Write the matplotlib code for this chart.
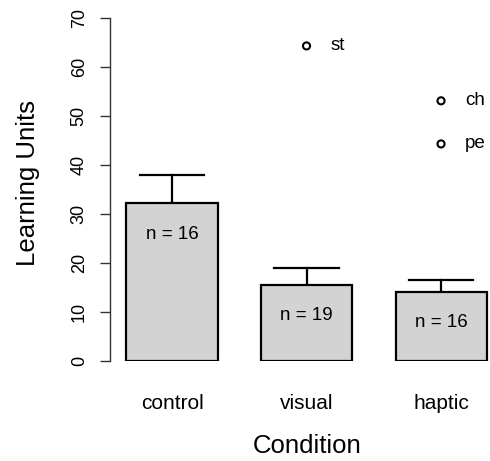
import numpy as np
import matplotlib
matplotlib.use("Agg")
from matplotlib import pyplot as plt

plt.rcParams['font.family'] = ['Liberation Sans', 'DejaVu Sans']

# data
conditions = ['control', 'visual', 'haptic']
means = [32.2, 15.5, 14.1]
upper = [38.0, 19.0, 16.5]
counts = [16, 19, 16]
outlier_group = [1, 2, 2]
outlier_value = [64.3, 53.1, 44.3]
outlier_label = ['st', 'ch', 'pe']
yticks = [0, 10, 20, 30, 40, 50, 60, 70]

W, H = 490, 461
fig = plt.figure(figsize=(W / 100, H / 100), dpi=100)
# axes placed so that y=0 sits at pixel 361, y=70 at pixel 18
ax = fig.add_axes([110 / W, (H - 361) / H, (490 - 110) / W, (361 - 18) / H])

x = np.arange(len(conditions))
ax.bar(x, means, width=0.677, color='#d3d3d3', edgecolor='black',
       linewidth=1.6, zorder=2)
for xi, m, u in zip(x, means, upper):
    ax.plot([xi, xi], [m, u], color='black', lw=1.6, zorder=1)
    ax.plot([xi - 0.24, xi + 0.24], [u, u], color='black', lw=1.6, zorder=1)
for xi, m, n in zip(x, means, counts):
    ax.text(xi, m - 6.3, f'n = {n}', ha='center', va='center', fontsize=13.5)

ax.scatter(outlier_group, outlier_value, s=26, facecolors='none',
           edgecolors='black', linewidths=1.5, clip_on=False, zorder=3)
for g, v, lab in zip(outlier_group, outlier_value, outlier_label):
    ax.text(g + 0.18, v, lab, ha='left', va='center', fontsize=13.5,
            clip_on=False)

ax.set_xlim(-0.461, 2.364)
ax.set_ylim(0, 70)

for side in ['top', 'right', 'bottom']:
    ax.spines[side].set_visible(False)
ax.spines['left'].set_linewidth(1.0)
ax.spines['left'].set_color('#333333')

ax.set_yticks(yticks)
ax.set_yticklabels([str(t) for t in yticks], rotation=90, va='center',
                   fontsize=13)
ax.tick_params(axis='y', length=7, width=1.0, pad=9, color='#333333')
ax.set_xticks(x)
ax.set_xticklabels(conditions, fontsize=15)
ax.tick_params(axis='x', length=0, pad=24)

fig.text(28 / W, 1 - 183 / H, 'Learning Units', rotation=90,
         ha='center', va='center', fontsize=18.5)
fig.text(307 / W, 1 - 446 / H, 'Condition', ha='center', va='center',
         fontsize=18.5)

fig.savefig('out.png', dpi=100)
